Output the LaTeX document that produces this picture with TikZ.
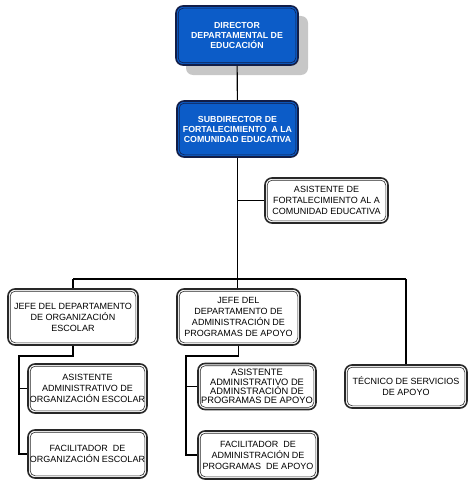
\documentclass[tikz,border=0pt]{standalone}
\usepackage{fontspec}
\setmainfont{Liberation Sans}
\usetikzlibrary{shadows,calc}
\definecolor{boxblue}{RGB}{12,92,200}
\definecolor{navy}{RGB}{18,30,72}
\definecolor{darkline}{RGB}{40,40,40}
\begin{document}
\begin{tikzpicture}[x=1pt,y=-1pt,
  base/.style={inner sep=0pt, rounded corners=7pt, line width=1.6pt, align=center},
  bluebox/.style={base, draw=navy, fill=boxblue, text=white,
     font=\fontsize{8.8}{10}\selectfont\bfseries},
  greybox/.style={base, draw=darkline, fill=white, text=black,
     font=\fontsize{9}{11}\selectfont},
  innerblue/.style={draw=navy, line width=0.6pt, rounded corners=5pt},
  innergrey/.style={draw=darkline, line width=0.6pt, rounded corners=5pt},
  conn/.style={draw=black, line width=1.1pt},
  branch/.style={draw=black, line width=1.8pt},
]
\useasboundingbox (0,0) rectangle (474,487);

\node[bluebox, minimum width=122pt, minimum height=59pt,
  drop shadow={shadow xshift=10pt, shadow yshift=-10pt, fill=black!22, opacity=1}]
  (dir) at (237,35.5) {DIRECTOR\\DEPARTAMENTAL DE\\EDUCACIÓN};
\node[bluebox, minimum width=121pt, minimum height=56pt]
  (sub) at (237.5,129) {SUBDIRECTOR DE\\FORTALECIMIENTO\ \ A LA\\COMUNIDAD EDUCATIVA};
\node[greybox, minimum width=123pt, minimum height=45pt]
  (asisF) at (326.5,200.5) {ASISTENTE DE\\FORTALECIMIENTO AL A\\COMUNIDAD EDUCATIVA};
\node[greybox, minimum width=130pt, minimum height=56pt]
  (jefeO) at (73,317) {JEFE DEL DEPARTAMENTO\\DE ORGANIZACIÓN\\ESCOLAR};
\node[greybox, minimum width=123pt, minimum height=56pt]
  (jefeA) at (238.5,317) {JEFE DEL\\DEPARTAMENTO DE\\ADMINISTRACIÓN DE\\PROGRAMAS DE APOYO};
\node[greybox, minimum width=122pt, minimum height=43pt]
  (tec) at (406,386.5) {TÉCNICO DE SERVICIOS\\DE APOYO};
\node[greybox, minimum width=119pt, minimum height=49pt]
  (asisO) at (87.5,388.5) {ASISTENTE\\ADMINISTRATIVO DE\\ORGANIZACIÓN ESCOLAR};
\node[greybox, minimum width=119pt, minimum height=48pt]
  (facO) at (87.5,454) {FACILITADOR\ \ DE\\ORGANIZACIÓN ESCOLAR};
\node[greybox, minimum width=118pt, minimum height=46pt,
  font=\fontsize{9.3}{9.4}\selectfont]
  (asisA) at (257,386.5) {ASISTENTE\\ADMINISTRATIVO DE\\ADMINSTRACIÓN DE\\PROGRAMAS DE APOYO};
\node[greybox, minimum width=120pt, minimum height=48pt]
  (facA) at (258,455) {FACILITADOR\ \ DE\\ADMINISTRACIÓN DE\\PROGRAMAS\ \ DE APOYO};

\foreach \n in {dir,sub}
  \draw[innerblue] ([xshift=3pt,yshift=-3pt]\n.north west) rectangle ([xshift=-3pt,yshift=3pt]\n.south east);
\foreach \n in {asisF,jefeO,jefeA,tec,asisO,facO,asisA,facA}
  \draw[innergrey] ([xshift=3pt,yshift=-3pt]\n.north west) rectangle ([xshift=-3pt,yshift=3pt]\n.south east);

\coordinate (busL) at (73,279);
\coordinate (busR) at (406,279);
\coordinate (oT) at (19,356);
\coordinate (aT) at (186,356);

\draw[conn] (dir) -- (sub);
\draw[conn] (sub.south) -- (sub.south |- jefeA.north);
\draw[conn] (sub.south |- asisF.west) -- (asisF.west);
\draw[conn] (busL) -- (busR);
\draw[conn] (busL) -- (jefeO.north);
\draw[conn] (busR) -- (tec.north);

\draw[branch] (jefeO.south) |- (oT) -- (oT |- facO.west) -- (facO.west);
\draw[branch] (oT |- asisO.west) -- (asisO.west);
\draw[branch] (jefeA.south) |- (aT) -- (aT |- facA.west) -- (facA.west);
\draw[branch] (aT |- asisA.west) -- (asisA.west);
\end{tikzpicture}
\end{document}
